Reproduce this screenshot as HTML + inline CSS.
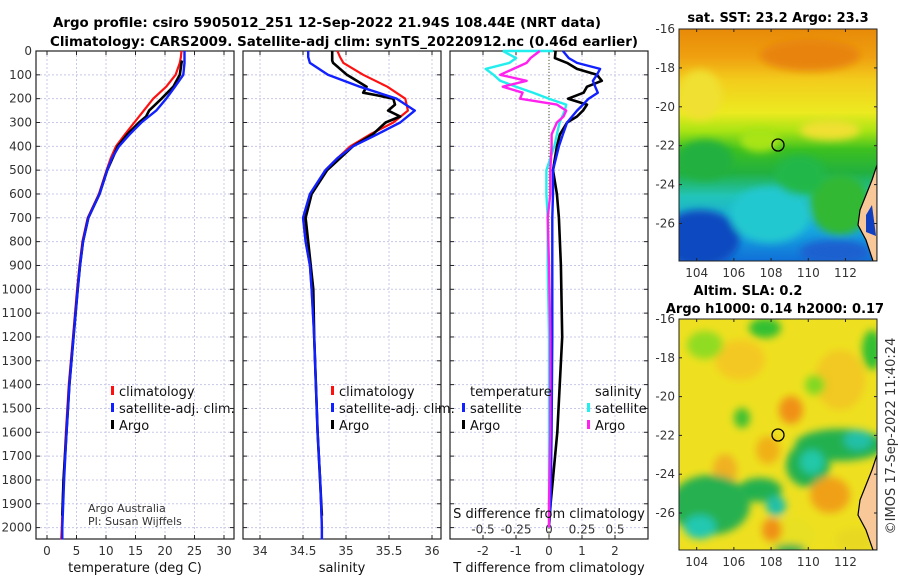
<!DOCTYPE html>
<html><head><meta charset="utf-8">
<style>
html,body{margin:0;padding:0;background:#fff;}
svg{display:block;font-family:"DejaVu Sans","Liberation Sans",sans-serif;}
.tk{font-size:12px;fill:#333;}
.ttl{font-size:13px;font-weight:bold;fill:#000;}
.lg{font-size:13px;fill:#111;}
</style></head>
<body>
<svg id="fig" width="900" height="580" viewBox="0 0 900 580">
<defs>
 <filter id="blur6" x="-20%" y="-20%" width="140%" height="140%"><feGaussianBlur stdDeviation="7"/></filter>
 <filter id="blur4" x="-20%" y="-20%" width="140%" height="140%"><feGaussianBlur stdDeviation="4"/></filter>
 <clipPath id="clipTop"><rect x="679" y="29" width="198" height="232"/></clipPath>
 <clipPath id="clipBot"><rect x="679" y="319" width="198" height="231"/></clipPath>
 <linearGradient id="sstGrad" x1="0" y1="0" x2="0" y2="1">
  <stop offset="0" stop-color="#e88a08"/><stop offset="0.12" stop-color="#efa010"/>
  <stop offset="0.22" stop-color="#f3cc1c"/><stop offset="0.36" stop-color="#ecea20"/>
  <stop offset="0.44" stop-color="#a8e414"/><stop offset="0.52" stop-color="#3cc020"/>
  <stop offset="0.62" stop-color="#22b040"/><stop offset="0.72" stop-color="#22c4b8"/>
  <stop offset="0.86" stop-color="#18a8e0"/><stop offset="1" stop-color="#1070d8"/>
 </linearGradient>
</defs>

<text class="ttl" x="327" y="27" text-anchor="middle" textLength="548" lengthAdjust="spacingAndGlyphs">Argo profile: csiro 5905012_251 12-Sep-2022 21.94S 108.44E (NRT data)</text>
<text class="ttl" x="344" y="46" text-anchor="middle" textLength="588" lengthAdjust="spacingAndGlyphs">Climatology: CARS2009. Satellite-adj clim: synTS_20220912.nc (0.46d earlier)</text>

<g id="panels"></g>

<!-- SST map -->
<g>
 <text class="ttl" x="778" y="22" text-anchor="middle">sat. SST: 23.2 Argo: 23.3</text>
 <g clip-path="url(#clipTop)">
  <rect x="679" y="29" width="198" height="232" fill="url(#sstGrad)"/>
  <g filter="url(#blur4)">
   <ellipse cx="700" cy="238" rx="40" ry="28" fill="#0a48c0"/>
   <ellipse cx="770" cy="215" rx="40" ry="28" fill="#20c8d0"/>
   <ellipse cx="840" cy="205" rx="30" ry="30" fill="#30b830"/>
   <ellipse cx="800" cy="175" rx="25" ry="20" fill="#22b84a"/>
   <ellipse cx="705" cy="160" rx="28" ry="20" fill="#22b040"/>
   <ellipse cx="835" cy="252" rx="35" ry="12" fill="#1a60d0"/>
   <ellipse cx="760" cy="140" rx="20" ry="12" fill="#a8e414"/>
   <ellipse cx="810" cy="55" rx="50" ry="16" fill="#e88408"/>
   <ellipse cx="700" cy="95" rx="22" ry="25" fill="#f0e030"/>
   <ellipse cx="830" cy="130" rx="30" ry="10" fill="#f0e030"/>
  </g>
  <polygon points="877,165 872,180 866,195 860,210 858,225 866,240 873,261 877,261" fill="#f8c898" stroke="#000" stroke-width="1.2"/>
  <polygon points="872,205 866,215 866,232 876,236" fill="#1040c0"/>
 </g>
 <rect x="679" y="29" width="198" height="232" fill="none" stroke="#222" stroke-width="1"/>
 <circle cx="778" cy="145" r="6" fill="none" stroke="#000" stroke-width="1.3"/>
 <g id="sstAxes"></g>
</g>

<!-- SLA map -->
<g>
 <text class="ttl" x="748" y="295" text-anchor="middle">Altim. SLA: 0.2</text>
 <text class="ttl" x="775" y="313" text-anchor="middle">Argo h1000: 0.14 h2000: 0.17</text>
 <g clip-path="url(#clipBot)">
  <rect x="679" y="319" width="198" height="231" fill="#eee020"/>
  <g filter="url(#blur4)">
   <ellipse cx="740" cy="360" rx="25" ry="20" fill="#f4c820"/>
   <ellipse cx="840" cy="380" rx="25" ry="30" fill="#f2c820"/>
   <ellipse cx="765" cy="328" rx="16" ry="10" fill="#30c030"/>
   <ellipse cx="705" cy="345" rx="18" ry="14" fill="#90dc20"/>
   <ellipse cx="872" cy="350" rx="10" ry="20" fill="#30c030"/>
   <ellipse cx="815" cy="385" rx="10" ry="10" fill="#80d820"/>
   <ellipse cx="791" cy="410" rx="12" ry="14" fill="#f09018"/>
   <ellipse cx="742" cy="418" rx="8" ry="10" fill="#40c030"/>
   <ellipse cx="768" cy="450" rx="12" ry="14" fill="#f0b018"/>
   <ellipse cx="725" cy="470" rx="12" ry="16" fill="#f0b020"/>
   <ellipse cx="840" cy="445" rx="45" ry="16" fill="#22b050"/>
   <ellipse cx="808" cy="465" rx="22" ry="22" fill="#22b050"/>
   <ellipse cx="812" cy="462" rx="12" ry="12" fill="#20c8a8"/>
   <ellipse cx="858" cy="440" rx="14" ry="10" fill="#20c0a8"/>
   <ellipse cx="760" cy="490" rx="22" ry="12" fill="#22b050"/>
   <ellipse cx="710" cy="505" rx="40" ry="30" fill="#28b050"/>
   <ellipse cx="700" cy="527" rx="16" ry="12" fill="#20c8b0"/>
   <ellipse cx="776" cy="506" rx="10" ry="10" fill="#20c0a8"/>
   <ellipse cx="830" cy="495" rx="20" ry="18" fill="#f0a018"/>
   <ellipse cx="790" cy="535" rx="25" ry="18" fill="#e8e024"/>
   <ellipse cx="772" cy="530" rx="10" ry="12" fill="#f09018"/>
   <ellipse cx="790" cy="550" rx="16" ry="6" fill="#22b050"/>
   <ellipse cx="855" cy="540" rx="20" ry="12" fill="#e8d820"/>
  </g>
  <polygon points="877,455 872,470 866,485 860,500 858,515 866,530 873,550 877,550" fill="#f8c898" stroke="#000" stroke-width="1.2"/>
 </g>
 <rect x="679" y="319" width="198" height="231" fill="none" stroke="#222" stroke-width="1"/>
 <circle cx="778" cy="435" r="6" fill="none" stroke="#000" stroke-width="1.3"/>
 <g id="slaAxes"></g>
</g>
<text class="tk" x="0" y="0" transform="translate(895,436) rotate(-90)" text-anchor="middle" style="font-size:13px">©IMOS 17-Sep-2022 11:40:24</text>
</svg>

<script>
// ---- data ----
const depths = [0,25,50,100,150,200,250,300,350,400,450,500,600,700,800,900,1000,1200,1400,1600,1800,2000,2050];
const tempClim = [22.8,22.7,22.5,21.8,20.2,18.0,16.4,14.8,13.2,11.7,10.8,10.1,8.8,6.9,6.0,5.5,5.1,4.4,3.7,3.2,2.8,2.5,2.4];
const tempSat  = [23.3,23.3,23.3,23.1,21.7,20.2,18.5,16.0,14.0,12.2,11.0,10.2,8.9,7.0,6.1,5.6,5.2,4.5,3.8,3.3,2.9,2.6,2.6];
const tempArgoDepths = [40,50,100,150,200,250,275,300,350,400,500,600,700,800,900,1000,1200,1400,1600,1800,1950];
const tempArgo = [22.9,22.8,22.5,21.4,19.4,17.3,16.8,15.6,13.6,12.0,10.2,8.9,7.0,6.1,5.6,5.2,4.5,3.8,3.3,2.8,2.6];
const salClim = [34.9,34.93,34.97,35.2,35.48,35.69,35.72,35.55,35.28,35.05,34.9,34.76,34.6,34.52,34.53,34.58,34.6,34.63,34.65,34.67,34.7,34.72,34.72];
const salSat  = [34.56,34.56,34.58,34.79,35.16,35.59,35.8,35.63,35.36,35.08,34.9,34.76,34.58,34.5,34.53,34.58,34.6,34.63,34.65,34.67,34.7,34.72,34.72];
const salArgoDepths = [0,40,50,100,150,175,185,200,225,250,275,300,350,400,500,600,700,800,1000,1200,1600,1950];
const salArgo = [34.84,34.84,34.85,35.01,35.24,35.2,35.35,35.55,35.57,35.49,35.63,35.46,35.31,35.08,34.78,34.6,34.53,34.56,34.62,34.63,34.67,34.72];
const diffDepths = [0,30,50,75,100,125,150,175,200,225,250,275,300,350,400,500,600,700,900,1200,1600,1900,2000];
const tDiffArgo = [0.2,0.18,0.55,0.85,1.45,1.6,1.15,1.05,0.58,1.15,1.03,0.85,0.55,0.33,0.24,0.12,0.24,0.3,0.36,0.4,0.25,0.05,0.0];
const tDiffSat  = [0.42,0.6,0.85,1.55,1.45,1.33,1.4,1.48,1.2,1.03,0.85,0.7,0.55,0.42,0.3,0.12,0.12,0.1,0.1,0.1,0.08,0.05,0.0];
const sDiffSat  = [-0.35,-0.25,-0.3,-0.48,-0.42,-0.37,-0.25,-0.12,0.0,0.13,0.12,0.1,0.08,0.06,0.04,-0.02,-0.02,-0.01,-0.01,0.0,0.0,0.0,0.0];
const sDiffAllTop = 0.03;
const sDiffArgo = [-0.07,-0.14,-0.17,-0.27,-0.37,-0.17,-0.35,-0.2,-0.22,0.06,0.13,0.11,0.06,0.02,0.02,0.01,0.01,-0.01,0.0,0.01,0.01,0.0,0.0];
const depthTicks = [0,100,200,300,400,500,600,700,800,900,1000,1100,1200,1300,1400,1500,1600,1700,1800,1900,2000];
const tempTicks = [0,5,10,15,20,25,30];
const salTicks = [34,34.5,35,35.5,36];
const tDiffTicks = [-2,-1,0,1,2];
const sDiffTicks = [-0.5,-0.25,0,0.25,0.5];
const sDiffLabels = ["-0.5","-0.25","0","0.25","0.5"];
const lonTicks = [104,106,108,110,112];
const latTicks = [-16,-18,-20,-22,-24,-26];

// ---- scales ----
const TOP=51, BOT=539;
const yD = d => TOP + d*0.2383;
const xT = t => 47 + t*5.9;
const xS = s => 260 + (s-34)*86;
const xTd = t => 549 + t*33;
const xSd = s => 549 + s*132;
const NS='http://www.w3.org/2000/svg';
const root=document.getElementById('panels');
function mk(tag,attrs,parent){const e=document.createElementNS(NS,tag);for(const k in attrs)e.setAttribute(k,attrs[k]);(parent||root).appendChild(e);return e;}
function txt(x,y,s,anchor,cls,parent){const t=mk('text',{x:x,y:y,'text-anchor':anchor||'middle',class:cls||'tk'},parent);t.textContent=s;return t;}

const panels=[{x0:36,x1:234,name:'temperature-panel'},{x0:243,x1:441,name:'salinity-panel'},{x0:450,x1:648,name:'difference-panel'}];
const gridCol='#c8c8e8';
panels.forEach((p,i)=>{
  const g=mk('g',{});
  
  
  depthTicks.forEach(d=>{
    mk('line',{x1:p.x0,x2:p.x1,y1:yD(d),y2:yD(d),stroke:gridCol,'stroke-width':1,'stroke-dasharray':'2,2'},g);
    mk('line',{x1:p.x0,x2:p.x0+4,y1:yD(d),y2:yD(d),stroke:'#222'},g);
    mk('line',{x1:p.x1,x2:p.x1-4,y1:yD(d),y2:yD(d),stroke:'#222'},g);
    if(i===0){const t=txt(p.x0-4,yD(d)+4,String(d),'end','tk',g);
      
      }
  });
  let ticks,fx,labs;
  if(i===0){ticks=tempTicks;fx=xT;labs=tempTicks.map(String);}
  else if(i===1){ticks=salTicks;fx=xS;labs=salTicks.map(String);}
  else {ticks=tDiffTicks;fx=xTd;labs=tDiffTicks.map(String);}
  ticks.forEach((v,k)=>{
    const x=fx(v);
    mk('line',{x1:x,x2:x,y1:TOP,y2:BOT,stroke:gridCol,'stroke-width':1,'stroke-dasharray':'2,2'},g);
    mk('line',{x1:x,x2:x,y1:BOT,y2:BOT-4,stroke:'#222'},g);
    mk('line',{x1:x,x2:x,y1:TOP,y2:TOP+4,stroke:'#222'},g);
    const t=txt(x,BOT+16,labs[k],'middle','tk',g);
    
    
  });
  if(i===2){
    sDiffTicks.forEach((v,k)=>{
      const t=txt(xSd(v),yD(2000)+6,sDiffLabels[k],'middle','tk',g);
      
      
    });
  }
  mk('rect',{x:p.x0,y:TOP,width:p.x1-p.x0,height:BOT-TOP,fill:'none',stroke:'#222','stroke-width':1.2},g);
});

function series(xs,ds,fx,color,w,name){
  const pts=xs.map((v,k)=>fx(v).toFixed(1)+','+yD(ds[k]).toFixed(1)).join(' ');
  const pl=mk('polyline',{points:pts,fill:'none',stroke:color,'stroke-width':w,'stroke-linejoin':'round'});
  
  
}
series(tempClim,depths,xT,'#ff1010',2.2,'temp-climatology-line');
series(tempArgo,tempArgoDepths,xT,'#000',2.6,'temp-argo-line');
series(tempSat,depths,xT,'#1020ff',2.4,'temp-satellite-line');
series(salClim,depths,xS,'#ff1010',2.2,'sal-climatology-line');
series(salArgo,salArgoDepths,xS,'#000',2.6,'sal-argo-line');
series(salSat,depths,xS,'#1020ff',2.4,'sal-satellite-line');
mk('line',{x1:549,x2:549,y1:TOP,y2:BOT,stroke:'#4a5a20','stroke-width':1,'stroke-dasharray':'1,2'});
series(tDiffArgo,diffDepths,xTd,'#000',2.6,'tdiff-argo-line');
series(tDiffSat,diffDepths,xTd,'#1020ff',2.4,'tdiff-satellite-line');
// cyan top segment: horizontal at surface
const cy=mk('line',{x1:xSd(sDiffSat[0]),x2:xSd(sDiffAllTop),y1:yD(0),y2:yD(0),stroke:'#22eeee','stroke-width':2.4});


series(sDiffSat,diffDepths,xSd,'#22eeee',2.4,'sdiff-satellite-line');
series(sDiffArgo,diffDepths,xSd,'#ff22ee',2.4,'sdiff-argo-line');

[[135,'temperature (deg C)','temp-axis-title'],[342,'salinity','salinity-axis-title'],[549,'T difference from climatology','tdiff-axis-title']].forEach(a=>{
  const t=txt(a[0],572,a[1],'middle','lg');
  
  
});
const sd=txt(549,518,'S difference from climatology','middle','lg');



function legItem(x,y,color,label,name){
  const g=mk('g',{});
  
  
  mk('rect',{x:x,y:y-10,width:3,height:9,fill:color},g);
  txt(x+8,y,label,'start','lg',g);
}
legItem(111,396,'#ff1010','climatology','legend-climatology');
legItem(111,413,'#1020ff','satellite-adj. clim.','legend-satellite-adj');
legItem(111,430,'#000','Argo','legend-argo');
legItem(331,396,'#ff1010','climatology','legend-climatology-2');
legItem(331,413,'#1020ff','satellite-adj. clim.','legend-satellite-adj-2');
legItem(331,430,'#000','Argo','legend-argo-2');
const lt=txt(470,396,'temperature','start','lg');


const ls=txt(595,396,'salinity','start','lg');


legItem(462,413,'#1020ff','satellite','legend-t-satellite');
legItem(462,430,'#000','Argo','legend-t-argo');
legItem(587,413,'#22eeee','satellite','legend-s-satellite');
legItem(587,430,'#ff22ee','Argo','legend-s-argo');
const c1=txt(88,512,'Argo Australia','start','tk');
c1.style.fontSize='11px';


const c2=txt(88,525,'PI: Susan Wijffels','start','tk');
c2.style.fontSize='11px';



function mapAxes(gid,y0,y1,latY){
  const g=document.getElementById(gid);
  const xL=l=>679+(l-103.05)*18.6;
  lonTicks.forEach(l=>{
    const x=xL(l);
    mk('line',{x1:x,x2:x,y1:y1,y2:y1-3,stroke:'#222'},g);
    mk('line',{x1:x,x2:x,y1:y0,y2:y0+3,stroke:'#222'},g);
    const t=txt(x,y1+16,String(l),'middle','tk',g);
    
    
  });
  latTicks.forEach(la=>{
    const y=latY(la);
    mk('line',{x1:679,x2:682,y1:y,y2:y,stroke:'#222'},g);
    mk('line',{x1:877,x2:874,y1:y,y2:y,stroke:'#222'},g);
    const t=txt(675,y+4,String(la),'end','tk',g);
    
    
  });
}
mapAxes('sstAxes',29,261,la=>29+(-16-la)*19.45);
mapAxes('slaAxes',319,550,la=>319+(-16-la)*19.4);
</script>
</body></html>
